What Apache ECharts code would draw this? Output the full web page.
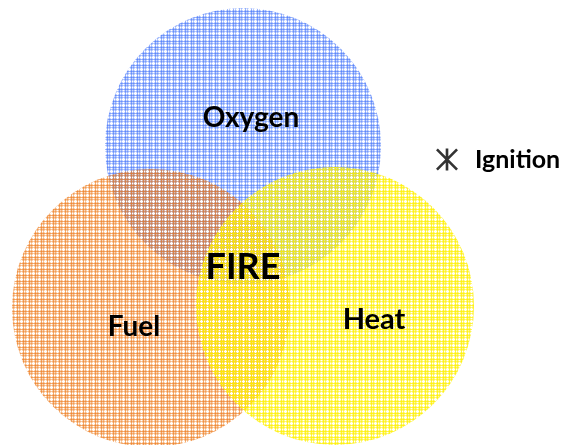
<!DOCTYPE html>
<html>
<head>
<meta charset="utf-8">
<script src="https://cdn.jsdelivr.net/npm/echarts@6/dist/echarts.min.js"></script>
<style>html,body{margin:0;padding:0;background:#fff;}#main{width:563px;height:445px;}</style>
</head>
<body>
<div id="main"></div>
<script>
// Sets of the Venn diagram
const setNames = ['Oxygen', 'Fuel', 'Heat'];
const centerX = [243, 151, 335];
const centerY = [146, 308, 306];
const radius = [138, 139, 139];

// Text labels
const labelTexts = ['Oxygen', 'FIRE', 'Fuel', 'Heat'];
const labelX = [251, 243, 134, 374];
const labelY = [118, 267, 327, 320];
const labelSizes = [28, 36, 28, 29];

const legendName = 'Ignition';

function makePattern(rgb, a1, a2, a3) {
  const c = document.createElement('canvas');
  c.width = 6; c.height = 6;
  const ctx = c.getContext('2d');
  ctx.fillStyle = 'rgba(' + rgb + ',' + a1 + ')'; ctx.fillRect(0, 0, 6, 6);
  ctx.clearRect(0, 3, 6, 1); ctx.clearRect(3, 0, 1, 6);
  ctx.fillStyle = 'rgba(' + rgb + ',' + a2 + ')';
  ctx.fillRect(0, 1, 6, 1); ctx.fillRect(1, 0, 1, 6);
  ctx.fillStyle = 'rgba(' + rgb + ',' + a3 + ')';
  ctx.fillRect(0, 5, 6, 1); ctx.fillRect(5, 0, 1, 6);
  return c;
}
const patterns = [
  makePattern('60,110,250', 0.27, 0.34, 0.52),
  makePattern('238,125,30', 0.31, 0.4, 0.62),
  makePattern('255,240,0', 0.4, 0.5, 0.72)
];

const circleData = setNames.map((n, i) => ({ name: n, value: [centerX[i], centerY[i], radius[i]] }));
const labelData = labelTexts.map((t, i) => ({
  name: t, value: [labelX[i], labelY[i]],
  label: { fontSize: labelSizes[i] }
}));

const asterisk = 'path://M44 0L56 0L56 100L44 100Z M0 8.5L8.5 0L100 91.5L91.5 100Z M91.5 0L100 8.5L8.5 100L0 91.5Z';

const chart = echarts.init(document.getElementById('main'));
chart.setOption({
  animation: false,
  grid: { left: 0, right: 0, top: 0, bottom: 0 },
  xAxis: { type: 'value', min: 0, max: 563, show: false },
  yAxis: { type: 'value', min: 0, max: 445, inverse: true, show: false },
  legend: {
    data: [{ name: legendName, icon: asterisk }],
    left: 431, top: 142,
    itemWidth: 22, itemHeight: 22,
    itemStyle: { color: '#000' },
    textStyle: { fontFamily: 'Lato', fontWeight: 'bold', fontSize: 25, color: '#000', padding: [0, 0, 0, 12] }
  },
  series: [
    {
      type: 'custom',
      coordinateSystem: 'cartesian2d',
      data: circleData,
      renderItem: function (params, api) {
        const p = api.coord([api.value(0), api.value(1)]);
        const r = api.size([api.value(2), 0])[0];
        return {
          type: 'circle',
          shape: { cx: p[0], cy: p[1], r: r },
          style: { fill: { image: patterns[params.dataIndex], repeat: 'repeat' } }
        };
      },
      silent: true,
      z: 1
    },
    {
      type: 'scatter',
      data: labelData,
      symbolSize: 0,
      itemStyle: { opacity: 1 },
      label: {
        show: true, position: 'inside', formatter: '{b}',
        fontFamily: 'Lato', fontWeight: 'bold', color: '#000', opacity: 1
      },
      silent: true,
      z: 5
    },
    {
      name: legendName,
      type: 'scatter',
      data: [],
      itemStyle: { color: '#000' }
    }
  ]
});
</script>
</body>
</html>
